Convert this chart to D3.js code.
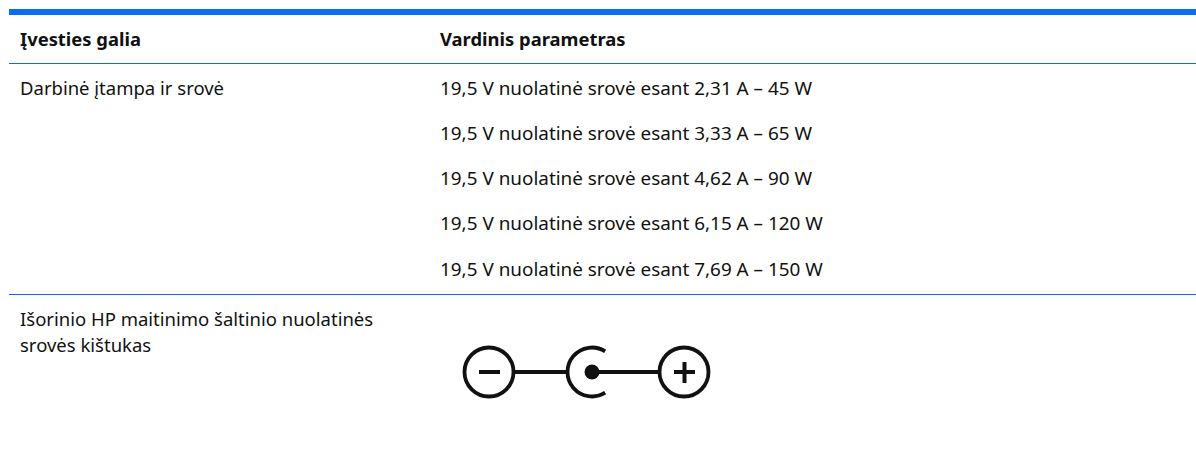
<!DOCTYPE html>
<html>
<head>
<meta charset="utf-8">
<script src="https://d3js.org/d3.v7.min.js"></script>
<style>
body { margin: 0; background: #fff; }
text { font-family: "Noto Sans", sans-serif; font-size: 18.5px; fill: #111; }
.head { font-weight: 700; font-size: 18.4px; }
.val { font-size: 18.9px; }
.plug { font-size: 18.5px; }
</style>
</head>
<body>
<div id="chart"></div>
<script>
var headers = ["Įvesties galia", "Vardinis parametras"];
var rowLabel = "Darbinė įtampa ir srovė";
var amps = ["2,31", "3,33", "4,62", "6,15", "7,69"];
var watts = ["45", "65", "90", "120", "150"];
var plugLabel = ["Išorinio HP maitinimo šaltinio nuolatinės", "srovės kištukas"];

var WIDTH = 1196, HEIGHT = 456;
var blue = "#0a6cf0";

var svg = d3.select("#chart").append("svg")
  .attr("width", WIDTH)
  .attr("height", HEIGHT)
  .style("display", "block");

// rules
svg.append("rect").attr("x", 9).attr("y", 9).attr("width", WIDTH - 9).attr("height", 6).attr("fill", blue);
[63.5, 294.5].forEach(function(y) {
  svg.append("line").attr("x1", 9).attr("x2", WIDTH).attr("y1", y).attr("y2", y)
    .attr("stroke", blue).attr("stroke-width", 1.2);
});

var colX = d3.scaleOrdinal().domain([0, 1]).range([20, 440]);

svg.selectAll(".head").data(headers).enter().append("text")
  .attr("class", "head")
  .attr("x", function(d, i) { return colX(i); })
  .attr("y", 45.5)
  .text(function(d) { return d; });

svg.append("text").attr("x", colX(0)).attr("y", 94.5).text(rowLabel);

var rowY = d3.scalePoint().domain(amps).range([94.5, 275.5]);

svg.selectAll(".val").data(amps).enter().append("text")
  .attr("class", "val")
  .attr("x", colX(1))
  .attr("y", function(d) { return rowY(d); })
  .text(function(d, i) { return "19,5 V nuolatinė srovė esant " + d + " A – " + watts[i] + " W"; });

svg.selectAll(".plug").data(plugLabel).enter().append("text")
  .attr("class", "plug")
  .attr("x", colX(0))
  .attr("y", function(d, i) { return 326 + i * 26; })
  .text(function(d) { return d; });

// polarity symbol
var sym = svg.append("g").attr("transform", "translate(0,372)")
  .attr("fill", "none").attr("stroke", "#111").attr("stroke-width", 3.8)
  .style("filter", "blur(0.5px)");
sym.append("circle").attr("cx", 489).attr("r", 24.5);
sym.append("circle").attr("cx", 684).attr("r", 24.5);
sym.append("path").attr("d", "M479 0H500").attr("stroke-width", 4);
sym.append("path").attr("d", "M674 0H695M684.5 -10V11").attr("stroke-width", 4);
sym.append("path").attr("d", "M514 0H566M592 0H660");
sym.append("path").attr("d", d3.arc()({innerRadius: 24.5, outerRadius: 24.5, startAngle: Math.PI * 0.82, endAngle: Math.PI * 2.18}))
  .attr("transform", "translate(592,0)");
sym.append("circle").attr("cx", 592).attr("r", 7.5).attr("fill", "#111").attr("stroke", "none");
</script>
</body>
</html>
